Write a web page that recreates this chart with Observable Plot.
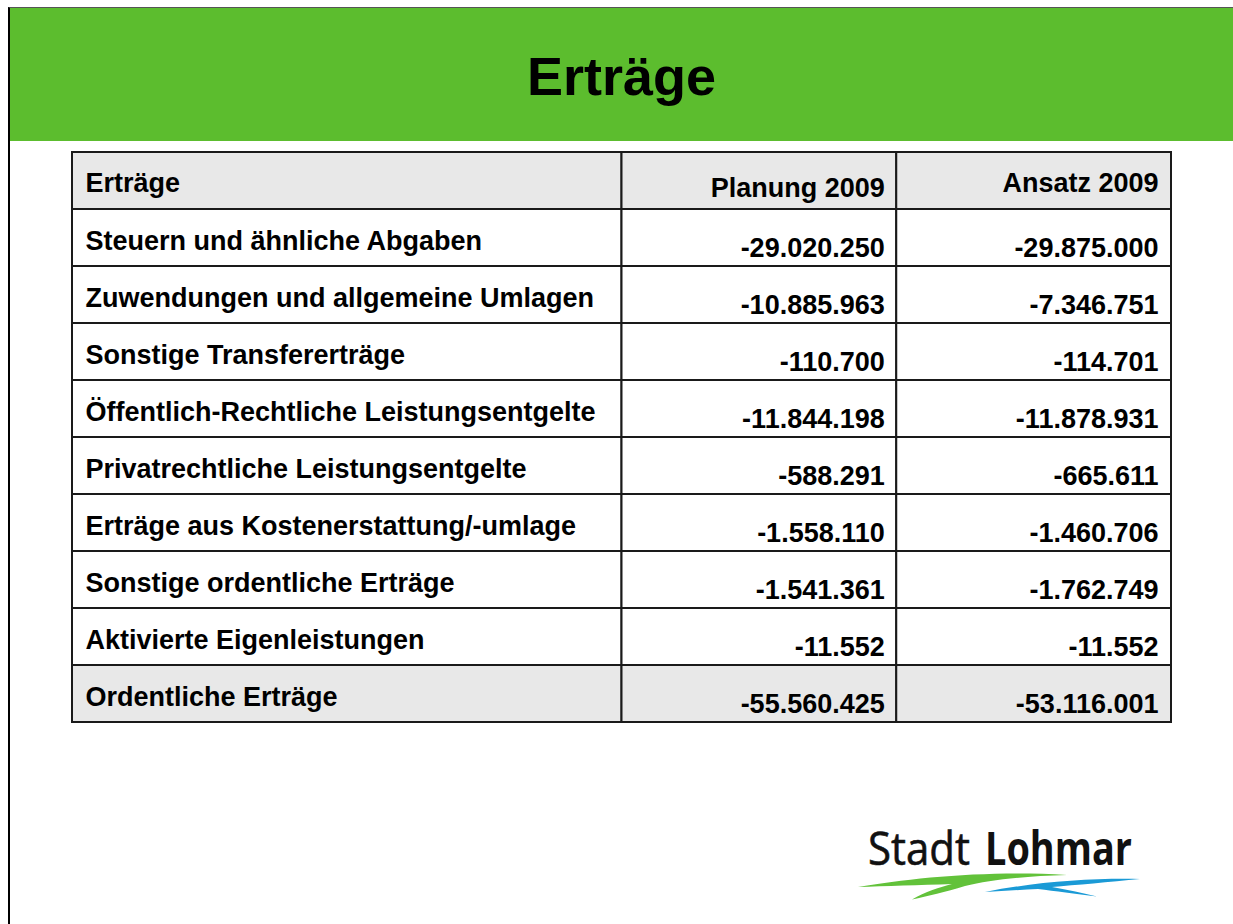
<!DOCTYPE html>
<html>
<head>
<meta charset="utf-8">
<script src="https://cdn.jsdelivr.net/npm/d3@7"></script>
<script src="https://cdn.jsdelivr.net/npm/@observablehq/plot@0.6"></script>
<style>
html, body { margin: 0; padding: 0; background: #fff; }
body { width: 1233px; height: 924px; position: relative; overflow: hidden; font-family: "Liberation Sans", Arial, sans-serif; }
#frame { position: absolute; left: 8px; top: 7px; width: 1240px; height: 930px; border-left: 2px solid #000; border-top: 1px solid #555; box-sizing: border-box; }
#banner { position: absolute; left: 10px; top: 8px; width: 1223px; height: 133px; background: #5cbd2e; }
#title { position: absolute; left: 10px; width: 1223px; top: 49px; height: 54px; line-height: 54px; text-align: center; font-weight: bold; font-size: 54px; color: #000; margin: 0; }
#chart { position: absolute; left: 0; top: 140px; }
#logo { position: absolute; left: 830px; top: 795px; overflow: visible; }
</style>
</head>
<body>
<div id="frame"></div>
<div id="banner"></div>
<h1 id="title">Erträge</h1>
<div id="chart"></div>
<svg id="logo" width="340" height="125" viewBox="0 0 340 125">
  <text x="38" y="70" font-family="Open Sans, Noto Sans, sans-serif" font-size="46" fill="#111" stroke="#111" stroke-width="0.6" textLength="102" lengthAdjust="spacingAndGlyphs">Stadt</text>
  <text x="155" y="70" font-family="Open Sans, Noto Sans, sans-serif" font-size="46" font-weight="bold" fill="#111" textLength="147" lengthAdjust="spacingAndGlyphs">Lohmar</text>
  <path d="M28,92 C80,83 160,75 237,80 C195,81 160,85 135,91 C115,97 98,101 82,104.5 C95,97 110,92 122,89 C90,90 55,91 28,92 Z" fill="#62c23a"/>
  <path d="M155,97 C205,87 260,83 310,84 C280,87 245,90 222,92 C238,95 253,98 267,101.5 C245,99 225,96 208,94 C190,95 172,96 155,97 Z" fill="#1a9ad6"/>
</svg>
<script>
// ---- data ----
const headerLabels = ["Erträge", "Planung 2009", "Ansatz 2009"];
const categories = [
  "Steuern und ähnliche Abgaben",
  "Zuwendungen und allgemeine Umlagen",
  "Sonstige Transfererträge",
  "Öffentlich-Rechtliche Leistungsentgelte",
  "Privatrechtliche Leistungsentgelte",
  "Erträge aus Kostenerstattung/-umlage",
  "Sonstige ordentliche Erträge",
  "Aktivierte Eigenleistungen",
  "Ordentliche Erträge"
];
const planung2009 = [-29020250, -10885963, -110700, -11844198, -588291, -1558110, -1541361, -11552, -55560425];
const ansatz2009  = [-29875000, -7346751, -114701, -11878931, -665611, -1460706, -1762749, -11552, -53116001];
const shadedRows = ["Erträge", "Ordentliche Erträge"];
// column spans in table-column units (label column spans two units)
const columns = [
  {key: "label", start: 0, end: 2},
  {key: "planung", start: 2, end: 3},
  {key: "ansatz", start: 3, end: 4}
];

// ---- build table ----
const fmt = d3.formatLocale({decimal: ",", thousands: ".", grouping: [3], currency: ["", " €"], minus: "-"}).format(",d");
const rows = [headerLabels[0], ...categories];

const cells = [];
for (const r of rows) for (const c of columns) cells.push({row: r, start: c.start, end: c.end, shaded: shadedRows.includes(r)});

const body = categories.map((c, i) => ({row: c, label: c, planung: fmt(planung2009[i]), ansatz: fmt(ansatz2009[i])}));
const head = [{row: headerLabels[0], label: headerLabels[0], planung: headerLabels[1], ansatz: headerLabels[2]}];

const font = "Liberation Sans, Arial, Helvetica, sans-serif";
const textStyle = {fontSize: 27, fontWeight: "bold", fill: "#000", fontFamily: font};

const chart = Plot.plot({
  width: 1233,
  height: 592,
  marginTop: 10,
  marginBottom: 8,
  marginLeft: 72,
  marginRight: 62,
  style: {fontFamily: font, background: "transparent", overflow: "visible"},
  x: {type: "linear", domain: [0, 4], axis: null},
  y: {type: "band", domain: rows, padding: 0, axis: null},
  marks: [
    Plot.barX(cells, {x1: "start", x2: "end", y: "row", fill: d => d.shaded ? "#e8e8e8" : "#ffffff", stroke: "#1a1a1a", strokeWidth: 2, inset: 0}),
    // header
    Plot.text(head, {x: () => 0, y: "row", text: "label", textAnchor: "start", dx: 13, dy: 2, ...textStyle}),
    Plot.text(head, {x: () => 3, y: "row", text: "planung", textAnchor: "end", dx: -12, dy: 7, ...textStyle}),
    Plot.text(head, {x: () => 4, y: "row", text: "ansatz", textAnchor: "end", dx: -13, dy: 2, ...textStyle}),
    // body
    Plot.text(body, {x: () => 0, y: "row", text: "label", textAnchor: "start", dx: 13, dy: 3, ...textStyle}),
    Plot.text(body, {x: () => 3, y: "row", text: "planung", textAnchor: "end", dx: -12, dy: 10, ...textStyle}),
    Plot.text(body, {x: () => 4, y: "row", text: "ansatz", textAnchor: "end", dx: -13, dy: 10, ...textStyle})
  ]
});
document.getElementById("chart").appendChild(chart);
</script>
</body>
</html>
